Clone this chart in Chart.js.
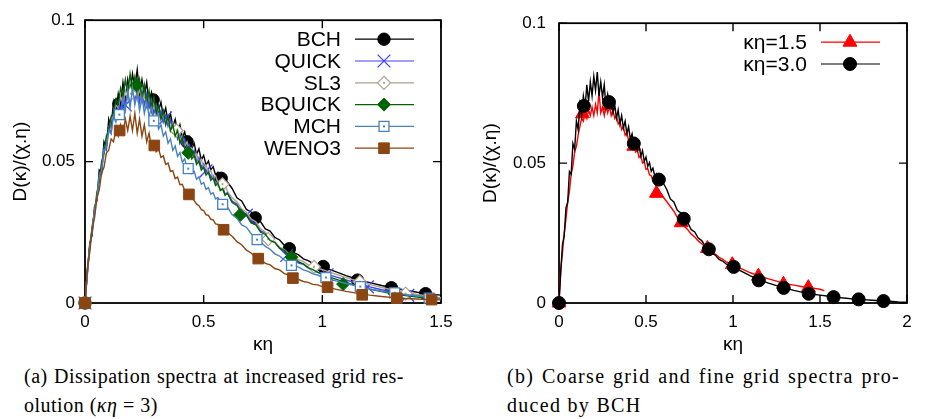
<!DOCTYPE html>
<html>
<head>
<meta charset="utf-8">
<script src="https://cdn.jsdelivr.net/npm/chart.js@4.4.1/dist/chart.umd.min.js"></script>
<style>
  html, body { margin: 0; padding: 0; background: #fff; }
  body { width: 931px; height: 419px; position: relative; overflow: hidden; }
  .panel { position: absolute; top: 0; }
  #panelA { left: 0; }
  #panelB { left: 470px; }
  .caption { position: absolute; font-family: "Liberation Serif", "DejaVu Serif", serif; font-size: 20px; line-height: 29px; color: #000; }
  .caption .l1 { display: block; text-align: justify; text-align-last: justify; }
  .caption .l2 { display: block; }
  #capA { left: 24px; top: 362px; width: 380px; letter-spacing: 0.5px; }
  #capB { left: 507px; top: 362px; width: 393px; letter-spacing: 1.3px; }
</style>
</head>
<body>
<canvas id="panelA" class="panel" width="470" height="360"></canvas>
<canvas id="panelB" class="panel" width="461" height="360"></canvas>
<div id="capA" class="caption"><span class="l1">(a) Dissipation spectra at increased grid res-</span><span class="l2">olution (<i>κη</i> = 3)</span></div>
<div id="capB" class="caption"><span class="l1">(b) Coarse grid and fine grid spectra pro-</span><span class="l2">duced by BCH</span></div>
<script>
// 横軸 κη の格子
const kGrid = [
  0, 0.01, 0.02, 0.03, 0.04, 0.05, 0.06, 0.07, 0.08, 0.09,
  0.10, 0.11, 0.12, 0.13, 0.14, 0.15, 0.16, 0.17, 0.18, 0.19,
  0.20, 0.21, 0.22, 0.23, 0.24, 0.25, 0.26, 0.27, 0.28, 0.29,
  0.30, 0.31, 0.32, 0.33, 0.34, 0.35, 0.36, 0.37, 0.38, 0.39,
  0.40, 0.41, 0.42, 0.43, 0.44, 0.45, 0.46, 0.47, 0.48, 0.49,
  0.50, 0.51, 0.52, 0.53, 0.54, 0.55, 0.56, 0.57, 0.58, 0.59,
  0.60, 0.62, 0.64, 0.66, 0.68, 0.70, 0.72, 0.74, 0.76, 0.78,
  0.80, 0.82, 0.84, 0.86, 0.88, 0.90, 0.92, 0.94, 0.96, 0.98,
  1.00, 1.05, 1.10, 1.15, 1.20, 1.25, 1.30, 1.35, 1.40, 1.45,
  1.50, 1.55, 1.60, 1.65, 1.70, 1.75, 1.80, 1.85, 1.90, 1.95,
  2.00
];
// 粗い格子 (κη=1.5) は 1.525 まで
const kGridCoarse = kGrid.slice(0, 91).concat([1.525]);

// スペクトル D(κ)/(χ.η)
const bchLine = [
  0, 0.011, 0.021, 0.024, 0.034, 0.036, 0.047, 0.046, 0.057, 0.055,
  0.065, 0.062, 0.071, 0.067, 0.074, 0.070, 0.078, 0.072, 0.079, 0.074,
  0.081, 0.076, 0.0825, 0.074, 0.079, 0.0735, 0.078, 0.070, 0.0745, 0.071,
  0.073, 0.068, 0.071, 0.066, 0.069, 0.064, 0.067, 0.0625, 0.065, 0.0605,
  0.063, 0.0585, 0.0605, 0.0565, 0.0585, 0.0545, 0.0565, 0.0525, 0.0545, 0.0506,
  0.0522, 0.0488, 0.0502, 0.0471, 0.0482, 0.0454, 0.0462, 0.0438, 0.0445, 0.0423,
  0.0428, 0.0405, 0.0372, 0.0361, 0.0331, 0.0322, 0.0296, 0.0287, 0.0262, 0.0254,
  0.0232, 0.0223, 0.0204, 0.0196, 0.0178, 0.0170, 0.0156, 0.0150, 0.0140, 0.0135,
  0.0127, 0.0113, 0.0097, 0.0083, 0.0072, 0.0062, 0.0053, 0.0045, 0.0038, 0.0032,
  0.0028, 0.0024, 0.0020, 0.0017, 0.0014, 0.0012, 0.0010, 0.0008, 0.0006, 0.0004,
  0.0003
];
const quickLine = [
  0, 0.010, 0.020, 0.025, 0.033, 0.037, 0.045, 0.046, 0.055, 0.054,
  0.062, 0.060, 0.068, 0.065, 0.071, 0.068, 0.074, 0.070, 0.076, 0.071,
  0.077, 0.072, 0.076, 0.071, 0.075, 0.070, 0.074, 0.069, 0.072, 0.067,
  0.070, 0.0655, 0.068, 0.064, 0.0665, 0.0625, 0.065, 0.0605, 0.0625, 0.058,
  0.0600, 0.0560, 0.0580, 0.0540, 0.0558, 0.0520, 0.0540, 0.0500, 0.0515, 0.0480,
  0.0492, 0.0462, 0.0470, 0.0440, 0.0450, 0.0420, 0.0430, 0.0402, 0.0410, 0.0385,
  0.0390, 0.0360, 0.0350, 0.0322, 0.0315, 0.0288, 0.0280, 0.0255, 0.0248, 0.0223,
  0.0215, 0.0193, 0.0184, 0.0166, 0.0158, 0.0141, 0.0137, 0.0124, 0.0120, 0.0109,
  0.0105, 0.0094, 0.0082, 0.0068, 0.0057, 0.0047, 0.0039, 0.0033, 0.0027, 0.0022,
  0.0018
];
const sl3Line = [
  0, 0.011, 0.019, 0.026, 0.031, 0.038, 0.043, 0.049, 0.052, 0.058,
  0.060, 0.065, 0.066, 0.070, 0.069, 0.073, 0.071, 0.075, 0.072, 0.076,
  0.073, 0.077, 0.072, 0.076, 0.071, 0.074, 0.070, 0.073, 0.068, 0.071,
  0.067, 0.069, 0.065, 0.067, 0.063, 0.065, 0.061, 0.0635, 0.0595, 0.061,
  0.0575, 0.0590, 0.0555, 0.0570, 0.0535, 0.0548, 0.0515, 0.0528, 0.0495, 0.0508,
  0.0478, 0.0488, 0.0460, 0.0468, 0.0442, 0.0450, 0.0425, 0.0432, 0.0410, 0.0415,
  0.0395, 0.0372, 0.0358, 0.0333, 0.0321, 0.0297, 0.0287, 0.0262, 0.0250, 0.0226,
  0.0216, 0.0198, 0.0189, 0.0172, 0.0166, 0.0152, 0.0147, 0.0135, 0.0131, 0.0122,
  0.0118, 0.0104, 0.0090, 0.0077, 0.0066, 0.0055, 0.0045, 0.0037, 0.0030, 0.0024,
  0.0019
];
const bquickLine = [
  0, 0.012, 0.020, 0.027, 0.032, 0.039, 0.043, 0.050, 0.053, 0.059,
  0.061, 0.066, 0.067, 0.072, 0.070, 0.076, 0.073, 0.079, 0.074, 0.081,
  0.075, 0.080, 0.074, 0.079, 0.072, 0.077, 0.070, 0.075, 0.068, 0.073,
  0.067, 0.070, 0.065, 0.068, 0.063, 0.066, 0.061, 0.063, 0.059, 0.061,
  0.0565, 0.0585, 0.0545, 0.0530, 0.0540, 0.0510, 0.0522, 0.0490, 0.0502, 0.0470,
  0.0480, 0.0452, 0.0462, 0.0434, 0.0442, 0.0416, 0.0424, 0.0398, 0.0405, 0.0381,
  0.0388, 0.0355, 0.0345, 0.0318, 0.0310, 0.0283, 0.0276, 0.0250, 0.0243, 0.0221,
  0.0214, 0.0194, 0.0186, 0.0168, 0.0160, 0.0145, 0.0138, 0.0125, 0.0118, 0.0108,
  0.0101, 0.0086, 0.0072, 0.0060, 0.0049, 0.0040, 0.0032, 0.0026, 0.0021, 0.0017,
  0.0014
];
const mchLine = [
  0, 0.011, 0.020, 0.026, 0.033, 0.037, 0.045, 0.047, 0.054, 0.055,
  0.061, 0.060, 0.066, 0.064, 0.069, 0.066, 0.072, 0.068, 0.075, 0.069,
  0.076, 0.070, 0.074, 0.068, 0.073, 0.067, 0.071, 0.066, 0.069, 0.064,
  0.066, 0.0615, 0.063, 0.059, 0.0605, 0.0565, 0.058, 0.054, 0.0555, 0.0518,
  0.0532, 0.0498, 0.0510, 0.0478, 0.0488, 0.0458, 0.0466, 0.0438, 0.0446, 0.0420,
  0.0426, 0.0402, 0.0408, 0.0385, 0.0390, 0.0368, 0.0373, 0.0352, 0.0356, 0.0336,
  0.0340, 0.0312, 0.0300, 0.0276, 0.0268, 0.0245, 0.0232, 0.0216, 0.0200, 0.0190,
  0.0174, 0.0166, 0.0152, 0.0144, 0.0133, 0.0127, 0.0117, 0.0112, 0.0103, 0.0099,
  0.0092, 0.0080, 0.0069, 0.0059, 0.0050, 0.0042, 0.0036, 0.0030, 0.0025, 0.0020,
  0.0016
];
const weno3Line = [
  0, 0.012, 0.018, 0.026, 0.030, 0.037, 0.040, 0.046, 0.048, 0.053,
  0.054, 0.058, 0.057, 0.061, 0.059, 0.063, 0.060, 0.065, 0.061, 0.066,
  0.061, 0.067, 0.060, 0.065, 0.059, 0.063, 0.057, 0.060, 0.055, 0.057,
  0.0535, 0.0545, 0.0515, 0.0520, 0.0490, 0.0495, 0.0465, 0.0468, 0.0440, 0.0445,
  0.0418, 0.0420, 0.0398, 0.0397, 0.0380, 0.0372, 0.0362, 0.0350, 0.0344, 0.0330,
  0.0327, 0.0312, 0.0310, 0.0296, 0.0294, 0.0280, 0.0278, 0.0265, 0.0263, 0.0251,
  0.0249, 0.0236, 0.0217, 0.0206, 0.0187, 0.0177, 0.0160, 0.0154, 0.0140, 0.0135,
  0.0122, 0.0117, 0.0104, 0.0099, 0.0087, 0.0083, 0.0076, 0.0073, 0.0066, 0.0064,
  0.0058, 0.0050, 0.0041, 0.0034, 0.0028, 0.0023, 0.0019, 0.0016, 0.0014, 0.0012,
  0.0011
];
const coarseLine = [
  0, 0.012, 0.018, 0.025, 0.030, 0.036, 0.040, 0.046, 0.049, 0.054,
  0.056, 0.060, 0.063, 0.066, 0.065, 0.068, 0.066, 0.069, 0.067, 0.070,
  0.067, 0.071, 0.068, 0.0755, 0.068, 0.070, 0.067, 0.071, 0.068, 0.0705,
  0.067, 0.069, 0.066, 0.067, 0.064, 0.065, 0.062, 0.063, 0.060, 0.061,
  0.058, 0.059, 0.056, 0.057, 0.054, 0.0548, 0.052, 0.0528, 0.050, 0.0505,
  0.0478, 0.0480, 0.0458, 0.0455, 0.0437, 0.0430, 0.0415, 0.0408, 0.0395, 0.0388,
  0.0378, 0.0362, 0.0345, 0.0328, 0.0305, 0.0292, 0.0274, 0.0262, 0.0246, 0.0236,
  0.0222, 0.0212, 0.0200, 0.0193, 0.0181, 0.0174, 0.0163, 0.0157, 0.0147, 0.0143,
  0.0135, 0.0122, 0.0108, 0.0097, 0.0087, 0.0078, 0.0069, 0.0064, 0.0058, 0.0054,
  0.0049, 0.0044
];

// マーカー位置
const kMarkBch = [0, 0.143, 0.287, 0.430, 0.574, 0.717, 0.861, 1.004, 1.148, 1.291, 1.435, 1.578, 1.722, 1.865];
const dMarkBch = [0, 0.0704, 0.0718, 0.0570, 0.0441, 0.0301, 0.0192, 0.0129, 0.0081, 0.0054, 0.0033, 0.0021, 0.0013, 0.0007];
const kMarkQuick = [0, 0.17, 0.34, 0.51, 0.68, 0.85, 1.02, 1.19, 1.36];
const dMarkQuick = [0, 0.0700, 0.0655, 0.0467, 0.0311, 0.0168, 0.0100, 0.0057, 0.0027];
const kMarkSl3 = [0, 0.193, 0.386, 0.579, 0.772, 0.965, 1.158, 1.351];
const dMarkSl3 = [0, 0.0740, 0.0610, 0.0420, 0.0226, 0.0128, 0.0075, 0.0033];
const kMarkBquick = [0, 0.2175, 0.435, 0.6525, 0.87, 1.0875, 1.305];
const dMarkBquick = [0, 0.0770, 0.0531, 0.0311, 0.0162, 0.0067, 0.0032];
const kMarkMch = [0, 0.145, 0.29, 0.435, 0.58, 0.725, 0.87, 1.015, 1.16, 1.305, 1.45];
const dMarkMch = [0, 0.0666, 0.0644, 0.0475, 0.0349, 0.0224, 0.0133, 0.0090, 0.0058, 0.0036, 0.0017];
const kMarkWeno3 = [0, 0.146, 0.292, 0.438, 0.584, 0.73, 0.876, 1.022, 1.168, 1.314, 1.46];
const dMarkWeno3 = [0, 0.0610, 0.0557, 0.0384, 0.0259, 0.0157, 0.0088, 0.0056, 0.0029, 0.0017, 0.0012];
const kMarkCoarse = [0, 0.135, 0.287, 0.430, 0.560, 0.702, 0.853, 0.996, 1.146, 1.290, 1.433];
const dMarkCoarse = [0, 0.0676, 0.0705, 0.0560, 0.0392, 0.0287, 0.0195, 0.0137, 0.0096, 0.0067, 0.0055];

// 目盛り
const xTicksA = [0, 0.5, 1, 1.5];
const xTicksB = [0, 0.5, 1, 1.5, 2];
const yTicks = [0, 0.05, 0.1];

const seriesA = [
  { label: 'BCH', k: kGrid, d: bchLine, mk: kMarkBch, md: dMarkBch, color: '#000000', style: 'circle', radius: 6.2, fill: '#000000', bw: 1 },
  { label: 'QUICK', k: kGrid, d: quickLine, mk: kMarkQuick, md: dMarkQuick, color: '#4040ff', style: 'crossRot', radius: 9, fill: '#4040ff', bw: 1.3 },
  { label: 'SL3', k: kGrid, d: sl3Line, mk: kMarkSl3, md: dMarkSl3, color: '#b0a08c', style: 'rectRot', radius: 6.5, fill: '#ffffff', bw: 1.2, dot: true },
  { label: 'BQUICK', k: kGrid, d: bquickLine, mk: kMarkBquick, md: dMarkBquick, color: '#006400', style: 'rectRot', radius: 6.5, fill: '#006400', bw: 1 },
  { label: 'MCH', k: kGrid, d: mchLine, mk: kMarkMch, md: dMarkMch, color: '#4682c0', style: 'rect', radius: 7, fill: '#ffffff', bw: 1.3, dot: true },
  { label: 'WENO3', k: kGrid, d: weno3Line, mk: kMarkWeno3, md: dMarkWeno3, color: '#8b4513', style: 'rect', radius: 7.5, fill: '#8b4513', bw: 1 }
];
const seriesB = [
  { label: 'κη=1.5', k: kGridCoarse, d: coarseLine, mk: kMarkCoarse, md: dMarkCoarse, color: '#ff0000', style: 'triangle', radius: 8, fill: '#ff0000', bw: 1 },
  { label: 'κη=3.0', k: kGrid, d: bchLine, mk: kMarkBch, md: dMarkBch, color: '#000000', style: 'circle', radius: 6.5, fill: '#000000', bw: 1 }
];

Chart.defaults.font.family = '"Liberation Sans", Arial, sans-serif';
Chart.defaults.color = '#000';

const toPoints = (ks, ds, xMax) => ds.map((d, i) => ({ x: ks[i], y: d })).filter(p => xMax === undefined || p.x <= xMax);

function drawMarker(ctx, s, x, y) {
  ctx.save();
  ctx.fillStyle = s.fill;
  ctx.strokeStyle = s.color;
  ctx.lineWidth = s.bw;
  Chart.helpers.drawPoint(ctx, { pointStyle: s.style, radius: s.radius, rotation: 0, borderWidth: s.bw }, x, y);
  if (s.dot) {
    ctx.fillStyle = s.color;
    ctx.fillRect(x - 1, y - 1, 2, 2);
  }
  ctx.restore();
}

// gnuplot 風の枠と内向き目盛り
const framePlugin = {
  id: 'gpFrame',
  beforeDatasetsDraw(chart) {
    const { ctx, chartArea: a, scales: { x, y } } = chart;
    ctx.save();
    ctx.strokeStyle = '#000';
    ctx.lineWidth = 1.8;
    ctx.strokeRect(a.left, a.top, a.right - a.left, a.bottom - a.top);
    ctx.lineWidth = 1.4;
    ctx.beginPath();
    x.ticks.forEach(t => {
      const px = x.getPixelForValue(t.value);
      ctx.moveTo(px, a.bottom); ctx.lineTo(px, a.bottom - 8);
      ctx.moveTo(px, a.top); ctx.lineTo(px, a.top + 8);
    });
    y.ticks.forEach(t => {
      const py = y.getPixelForValue(t.value);
      ctx.moveTo(a.left, py); ctx.lineTo(a.left + 8, py);
      ctx.moveTo(a.right, py); ctx.lineTo(a.right - 8, py);
    });
    ctx.stroke();
    ctx.restore();
  }
};

function legendPlugin(series) {
  return {
    id: 'gpLegend',
    afterDraw(chart) {
      const { ctx, chartArea: a } = chart;
      ctx.save();
      ctx.font = '21px "Liberation Sans", Arial, sans-serif';
      ctx.textAlign = 'right';
      ctx.textBaseline = 'middle';
      series.forEach((s, i) => {
        const y = a.top + 19 + i * 21.8;
        ctx.fillStyle = '#000';
        ctx.fillText(s.label, a.right - 100, y + 1);
        ctx.strokeStyle = s.color;
        ctx.lineWidth = 1.2;
        ctx.beginPath();
        ctx.moveTo(a.right - 86, y);
        ctx.lineTo(a.right - 27, y);
        ctx.stroke();
        drawMarker(ctx, s, a.right - 57, y);
      });
      ctx.restore();
    }
  };
}

function buildDatasets(series, xMax) {
  const n = series.length;
  const sets = [];
  series.forEach((s, i) => {
    const base = (n - i) * 3 + 2;
    sets.push({
      data: toPoints(s.k, s.d),
      borderColor: s.color,
      borderWidth: 1.4,
      pointRadius: 0,
      fill: false,
      tension: 0,
      order: base
    });
    const marks = toPoints(s.mk, s.md, xMax);
    sets.push({
      data: marks,
      showLine: false,
      pointStyle: s.style,
      pointRadius: s.radius,
      pointBackgroundColor: s.fill,
      pointBorderColor: s.color,
      pointBorderWidth: s.bw,
      clip: false,
      order: base - 1
    });
    if (s.dot) {
      sets.push({
        data: marks,
        showLine: false,
        pointStyle: 'rect',
        pointRadius: 1.4,
        pointBackgroundColor: s.color,
        pointBorderWidth: 0,
        clip: false,
        order: base - 2
      });
    }
  });
  return sets;
}

function renderPanel(id, series, xMax, xTicks, yWidth, padRight, yPad) {
  new Chart(document.getElementById(id).getContext('2d'), {
    type: 'line',
    data: { datasets: buildDatasets(series, xMax) },
    options: {
      responsive: false,
      animation: false,
      devicePixelRatio: 1,
      events: [],
      layout: { padding: { left: 0, right: padRight, top: 15, bottom: 0 } },
      plugins: { legend: { display: false }, tooltip: { enabled: false } },
      scales: {
        x: {
          type: 'linear',
          min: 0,
          max: xMax,
          grid: { display: false, drawTicks: false },
          border: { display: false },
          afterBuildTicks: s => { s.ticks = xTicks.map(v => ({ value: v })); },
          afterFit: s => { s.height = 57; },
          ticks: { font: { size: 17 }, color: '#000', padding: 9, maxRotation: 0, autoSkip: false, callback: v => String(v) },
          title: { display: true, text: 'κη', font: { size: 19 }, color: '#000', padding: { top: 4, bottom: 4 } }
        },
        y: {
          type: 'linear',
          min: 0,
          max: 0.1,
          grid: { display: false, drawTicks: false },
          border: { display: false },
          afterBuildTicks: s => { s.ticks = yTicks.map(v => ({ value: v })); },
          afterFit: s => { s.width = yWidth; },
          ticks: { font: { size: 17 }, color: '#000', padding: yPad, callback: v => String(v) },
          title: { display: true, text: 'D(κ)/(χ.η)', font: { size: 19 }, color: '#000', padding: { top: 9, bottom: 9 } }
        }
      }
    },
    plugins: [framePlugin, legendPlugin(series)]
  });
}

renderPanel('panelA', seriesA, 1.5, xTicksA, 85, 29, 10);
renderPanel('panelB', seriesB, 2, xTicksB, 89, 24, 13);
</script>
</body>
</html>
